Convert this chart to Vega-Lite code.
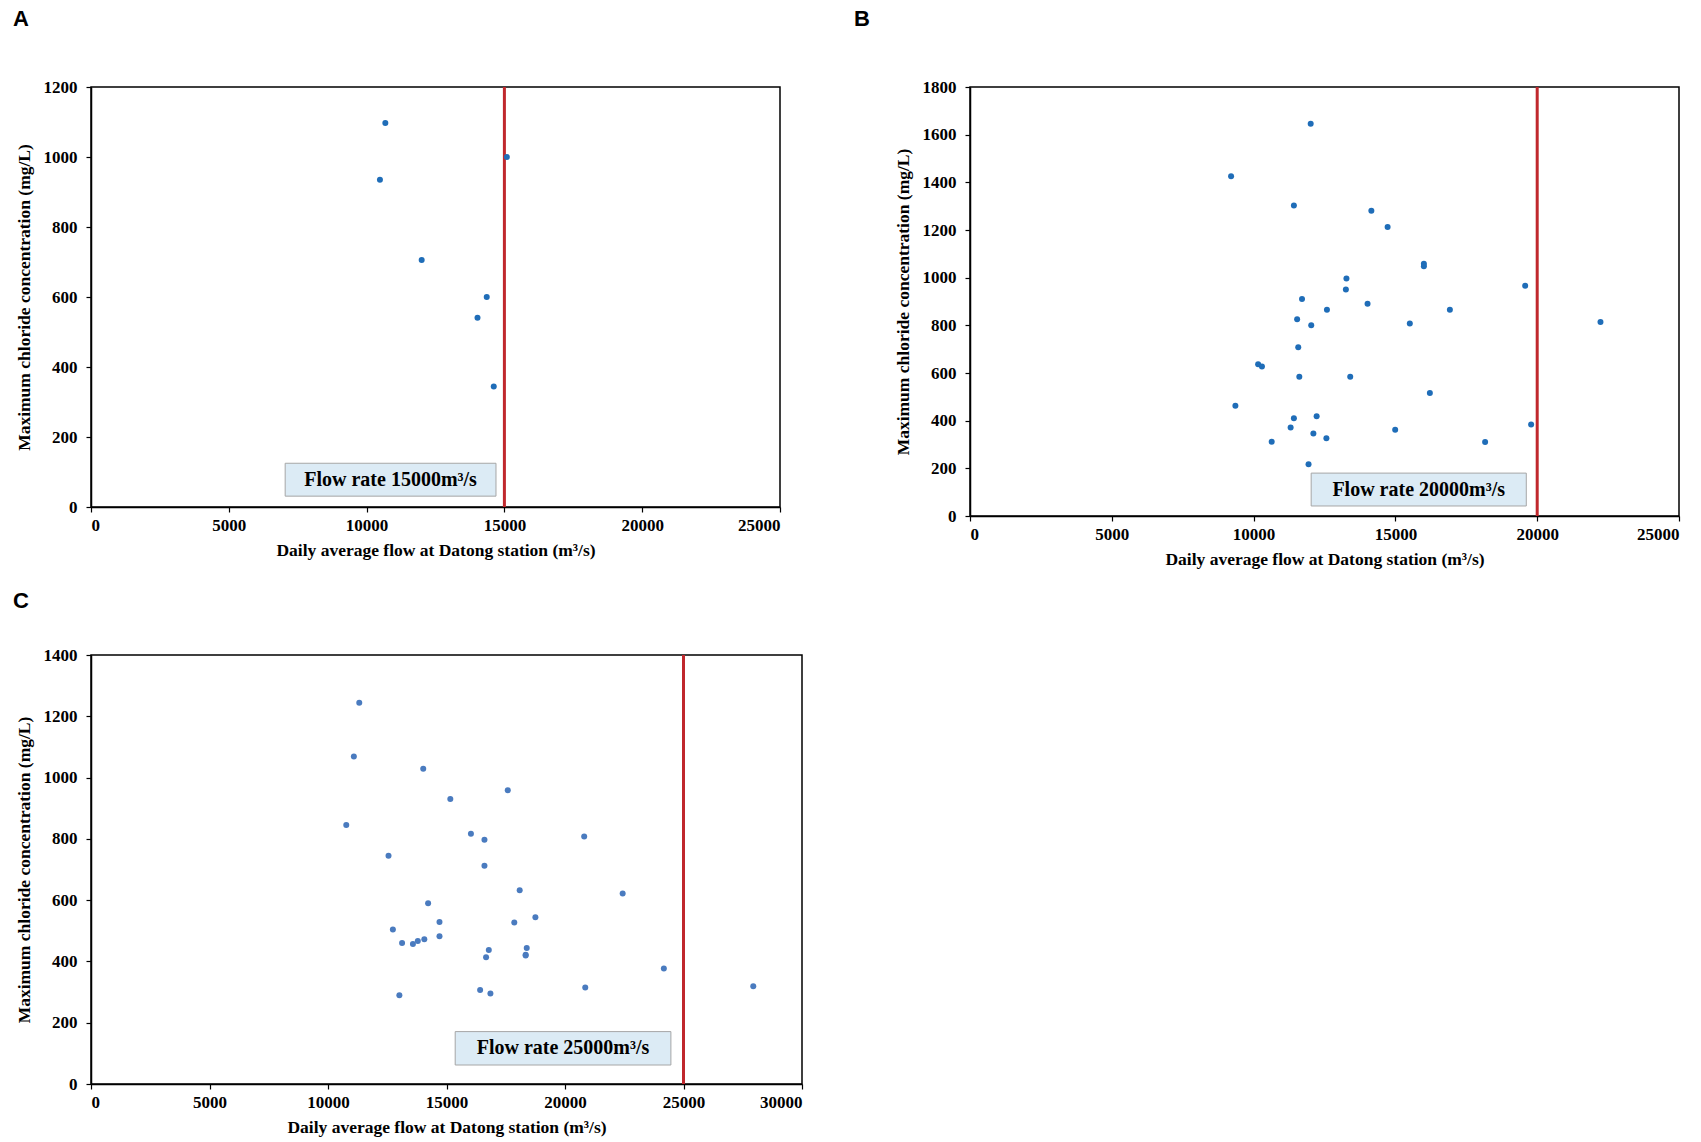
{
  "$schema": "https://vega.github.io/schema/vega-lite/v6.json",
  "padding": {"left": 12, "top": 7, "right": 5, "bottom": 5},
  "background": "white",
  "datasets": {
    "ptsA": [
      {"flow": 10680, "cl": 1097}, {"flow": 15090, "cl": 1000}, {"flow": 10484, "cl": 935},
      {"flow": 11998, "cl": 706}, {"flow": 14359, "cl": 600}, {"flow": 14024, "cl": 541},
      {"flow": 14614, "cl": 344}
    ],
    "ptsB": [
      {"flow": 12013, "cl": 1646}, {"flow": 9206, "cl": 1426}, {"flow": 11421, "cl": 1303},
      {"flow": 14152, "cl": 1281}, {"flow": 14725, "cl": 1213}, {"flow": 16004, "cl": 1058},
      {"flow": 16004, "cl": 1048}, {"flow": 13273, "cl": 997}, {"flow": 13254, "cl": 950},
      {"flow": 19576, "cl": 966}, {"flow": 11707, "cl": 910}, {"flow": 14018, "cl": 891},
      {"flow": 12586, "cl": 865}, {"flow": 16921, "cl": 865}, {"flow": 11535, "cl": 826},
      {"flow": 12032, "cl": 800}, {"flow": 15508, "cl": 808}, {"flow": 22231, "cl": 814},
      {"flow": 11574, "cl": 708}, {"flow": 10160, "cl": 637}, {"flow": 10294, "cl": 627},
      {"flow": 11612, "cl": 584}, {"flow": 13407, "cl": 584}, {"flow": 16215, "cl": 516},
      {"flow": 9358, "cl": 463}, {"flow": 11421, "cl": 410}, {"flow": 12223, "cl": 419},
      {"flow": 11306, "cl": 371}, {"flow": 12108, "cl": 346}, {"flow": 19786, "cl": 384},
      {"flow": 14992, "cl": 362}, {"flow": 12567, "cl": 326}, {"flow": 10638, "cl": 312},
      {"flow": 18163, "cl": 311}, {"flow": 11937, "cl": 217}
    ],
    "ptsC": [
      {"flow": 11319, "cl": 1244}, {"flow": 11091, "cl": 1069}, {"flow": 14018, "cl": 1029},
      {"flow": 17585, "cl": 959}, {"flow": 15161, "cl": 930}, {"flow": 10771, "cl": 845},
      {"flow": 16030, "cl": 817}, {"flow": 16602, "cl": 797}, {"flow": 20810, "cl": 808},
      {"flow": 12554, "cl": 745}, {"flow": 16602, "cl": 712}, {"flow": 18088, "cl": 632},
      {"flow": 22433, "cl": 622}, {"flow": 14224, "cl": 590}, {"flow": 18751, "cl": 544},
      {"flow": 17860, "cl": 527}, {"flow": 14704, "cl": 529}, {"flow": 12737, "cl": 504},
      {"flow": 14704, "cl": 482}, {"flow": 14064, "cl": 472}, {"flow": 13789, "cl": 467},
      {"flow": 13583, "cl": 457}, {"flow": 13126, "cl": 460}, {"flow": 16785, "cl": 437},
      {"flow": 18385, "cl": 444}, {"flow": 18340, "cl": 422}, {"flow": 18340, "cl": 419},
      {"flow": 16670, "cl": 414}, {"flow": 24171, "cl": 377}, {"flow": 27944, "cl": 319},
      {"flow": 20855, "cl": 315}, {"flow": 16419, "cl": 307}, {"flow": 16853, "cl": 295},
      {"flow": 13011, "cl": 290}
    ],
    "boxA": [{"x1": 7045, "x2": 14695, "y1": 31, "y2": 125, "xm": 10870, "ym": 78, "label": "Flow rate 15000m³/s", "limit": 15000}],
    "boxB": [{"x1": 12030, "x2": 19615, "y1": 42, "y2": 180, "xm": 15822, "ym": 111, "label": "Flow rate 20000m³/s", "limit": 20000}],
    "boxC": [{"x1": 15367, "x2": 24468, "y1": 62, "y2": 171, "xm": 19917, "ym": 116, "label": "Flow rate 25000m³/s", "limit": 25000}]
  },
  "columns": 2,
  "bounds": "flush",
  "spacing": {"row": 139, "column": 168},
  "concat": [
    {
      "title": {"text": "A", "dx": -78, "offset": 47},
      "width": 689,
      "height": 420,
      "layer": [
        {
          "data": {"name": "boxA"},
          "mark": {"type": "rect", "fill": "#DCEBF5", "stroke": "#A6A6A6", "strokeWidth": 1},
          "encoding": {
            "x": {"field": "x1", "type": "quantitative", "scale": {"domain": [0, 25000], "nice": false}, "axis": {"values": [0, 5000, 10000, 15000, 20000, 25000], "title": "Daily average flow at Datong station (m³/s)"}},
            "x2": {"field": "x2"},
            "y": {"field": "y1", "type": "quantitative", "scale": {"domain": [0, 1200], "nice": false}, "axis": {"values": [0, 200, 400, 600, 800, 1000, 1200], "title": "Maximum chloride concentration (mg/L)"}},
            "y2": {"field": "y2"}
          }
        },
        {
          "data": {"name": "boxA"},
          "mark": {"type": "text", "font": "Liberation Serif", "fontWeight": "bold", "fontSize": 20, "color": "black", "baseline": "middle"},
          "encoding": {
            "x": {"field": "xm", "type": "quantitative"},
            "y": {"field": "ym", "type": "quantitative"},
            "text": {"field": "label"}
          }
        },
        {
          "data": {"name": "boxA"},
          "mark": {"type": "rule", "color": "#C0282D", "strokeWidth": 3},
          "encoding": {"x": {"field": "limit", "type": "quantitative"}}
        },
        {
          "data": {"name": "ptsA"},
          "mark": {"type": "point", "filled": true, "opacity": 1, "size": 36, "color": "#1F6DB8"},
          "encoding": {
            "x": {"field": "flow", "type": "quantitative"},
            "y": {"field": "cl", "type": "quantitative"}
          }
        }
      ]
    },
    {
      "title": {"text": "B", "dx": -116, "offset": 47},
      "width": 709,
      "height": 429,
      "layer": [
        {
          "data": {"name": "boxB"},
          "mark": {"type": "rect", "fill": "#DCEBF5", "stroke": "#A6A6A6", "strokeWidth": 1},
          "encoding": {
            "x": {"field": "x1", "type": "quantitative", "scale": {"domain": [0, 25000], "nice": false}, "axis": {"values": [0, 5000, 10000, 15000, 20000, 25000], "title": "Daily average flow at Datong station (m³/s)"}},
            "x2": {"field": "x2"},
            "y": {"field": "y1", "type": "quantitative", "scale": {"domain": [0, 1800], "nice": false}, "axis": {"values": [0, 200, 400, 600, 800, 1000, 1200, 1400, 1600, 1800], "title": "Maximum chloride concentration (mg/L)"}},
            "y2": {"field": "y2"}
          }
        },
        {
          "data": {"name": "boxB"},
          "mark": {"type": "text", "font": "Liberation Serif", "fontWeight": "bold", "fontSize": 20, "color": "black", "baseline": "middle"},
          "encoding": {
            "x": {"field": "xm", "type": "quantitative"},
            "y": {"field": "ym", "type": "quantitative"},
            "text": {"field": "label"}
          }
        },
        {
          "data": {"name": "boxB"},
          "mark": {"type": "rule", "color": "#C0282D", "strokeWidth": 3},
          "encoding": {"x": {"field": "limit", "type": "quantitative"}}
        },
        {
          "data": {"name": "ptsB"},
          "mark": {"type": "point", "filled": true, "opacity": 1, "size": 36, "color": "#1F6DB8"},
          "encoding": {
            "x": {"field": "flow", "type": "quantitative"},
            "y": {"field": "cl", "type": "quantitative"}
          }
        }
      ]
    },
    {
      "title": {"text": "C", "dx": -78, "offset": 33},
      "width": 711,
      "height": 429,
      "layer": [
        {
          "data": {"name": "boxC"},
          "mark": {"type": "rect", "fill": "#DCEBF5", "stroke": "#A6A6A6", "strokeWidth": 1},
          "encoding": {
            "x": {"field": "x1", "type": "quantitative", "scale": {"domain": [0, 30000], "nice": false}, "axis": {"values": [0, 5000, 10000, 15000, 20000, 25000, 30000], "title": "Daily average flow at Datong station (m³/s)"}},
            "x2": {"field": "x2"},
            "y": {"field": "y1", "type": "quantitative", "scale": {"domain": [0, 1400], "nice": false}, "axis": {"values": [0, 200, 400, 600, 800, 1000, 1200, 1400], "title": "Maximum chloride concentration (mg/L)"}},
            "y2": {"field": "y2"}
          }
        },
        {
          "data": {"name": "boxC"},
          "mark": {"type": "text", "font": "Liberation Serif", "fontWeight": "bold", "fontSize": 20, "color": "black", "baseline": "middle"},
          "encoding": {
            "x": {"field": "xm", "type": "quantitative"},
            "y": {"field": "ym", "type": "quantitative"},
            "text": {"field": "label"}
          }
        },
        {
          "data": {"name": "boxC"},
          "mark": {"type": "rule", "color": "#C0282D", "strokeWidth": 3},
          "encoding": {"x": {"field": "limit", "type": "quantitative"}}
        },
        {
          "data": {"name": "ptsC"},
          "mark": {"type": "point", "filled": true, "opacity": 1, "size": 36, "color": "#4A7BBF"},
          "encoding": {
            "x": {"field": "flow", "type": "quantitative"},
            "y": {"field": "cl", "type": "quantitative"}
          }
        }
      ]
    }
  ],
  "config": {
    "view": {"stroke": "black", "strokeWidth": 1.5},
    "title": {"anchor": "start", "frame": "group", "font": "Liberation Sans", "fontSize": 22, "fontWeight": "bold", "color": "black", "baseline": "alphabetic"},
    "axis": {
      "grid": false,
      "format": "d",
      "domainColor": "black",
      "domainWidth": 1.5,
      "tickColor": "black",
      "tickWidth": 1.2,
      "tickSize": 5,
      "labelFont": "Liberation Serif",
      "labelFontWeight": "bold",
      "labelFontSize": 17,
      "labelColor": "black",
      "titleFont": "Liberation Serif",
      "titleFontWeight": "bold",
      "titleFontSize": 17.5,
      "titleColor": "black"
    },
    "axisY": {"labelPadding": 9, "titlePadding": 10},
    "axisX": {"labelPadding": 5, "titlePadding": 8}
  }
}
